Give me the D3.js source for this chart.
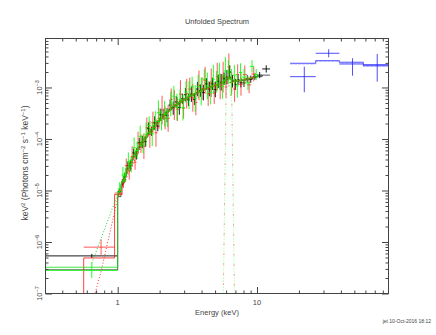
<!DOCTYPE html>
<html>
<head>
<meta charset="utf-8">
<script src="https://cdn.jsdelivr.net/npm/d3@7"></script>
<style>
  body { margin: 0; background: #fff; }
  text { font-family: "Liberation Sans", Arial, sans-serif; fill: #444; }
</style>
</head>
<body>
<script>
// Global consts
var w = 436;
var h = 335;
var plotL = 45.5, plotR = 388.5, plotT = 38.5, plotB = 293.5;
var xDomain = [0.3032, 87.9];
var yDomain = [1e-7, 8.93e-3];

// tick values
var xMajor = [1, 10];
var xMajorLabels = ["1", "10"];
var xMinor = [0.4, 0.5, 0.6, 0.7, 0.8, 0.9, 2, 3, 4, 5, 6, 7, 8, 9, 20, 30, 40, 50, 60, 70, 80];
var yMajor = [1e-7, 1e-6, 1e-5, 1e-4, 1e-3];
var yMajorExp = ["\u22127", "\u22126", "\u22125", "\u22124", "\u22123"];
var yMinorMult = [2, 3, 4, 5, 6, 7, 8, 9];

// black dataset: bin edges (keV), log10 flux, error (dex), log10 model
var blackEdges = [0.3032, 1.0, 1.055, 1.105, 1.155, 1.21, 1.27, 1.33, 1.395, 1.465, 1.54, 1.62, 1.705, 1.795,
    1.89, 1.99, 2.095, 2.205, 2.32, 2.44, 2.565, 2.70, 2.84, 2.985, 3.14, 3.30, 3.465, 3.64, 3.825, 4.02,
    4.225, 4.44, 4.665, 4.90, 5.145, 5.40, 5.665, 5.94, 6.225, 6.52, 6.825, 7.14, 7.475, 7.85, 8.275, 8.75,
    9.30, 10.0, 10.9, 12.4];
var blackFlux = [-6.27,
    -5.02, -4.85, -4.74, -4.52, -4.51, -4.27, -4.29, -4.07, -4.06, -4.05,
    -3.80, -3.85, -3.69, -3.75, -3.53, -3.52, -3.54, -3.34, -3.40, -3.28,
    -3.39, -3.22, -3.14, -3.24, -3.13, -3.23, -3.03, -3.06, -3.10, -2.93,
    -3.03, -2.93, -3.04, -2.88, -2.90, -2.83, -2.80, -2.70, -2.88, -2.94,
    -2.85, -2.91, -2.91, -2.83, -2.84, -2.79, -2.76, -2.64];
var blackErr = [0.04,
    0.06, 0.07, 0.09, 0.08, 0.10, 0.08, 0.11, 0.09, 0.12, 0.10,
    0.12, 0.09, 0.13, 0.10, 0.12, 0.11, 0.14, 0.10, 0.13, 0.11,
    0.14, 0.10, 0.13, 0.12, 0.15, 0.11, 0.14, 0.12, 0.15, 0.11,
    0.14, 0.12, 0.15, 0.13, 0.16, 0.12, 0.14, 0.13, 0.12, 0.11,
    0.10, 0.09, 0.08, 0.07, 0.07, 0.06, 0.06, 0.07];
var blackModel = [-6.54,
    -5.12, -4.88, -4.72, -4.58, -4.46, -4.35, -4.25, -4.16, -4.07, -3.98,
    -3.90, -3.82, -3.74, -3.67, -3.60, -3.54, -3.48, -3.43, -3.38, -3.34,
    -3.30, -3.26, -3.22, -3.19, -3.16, -3.13, -3.10, -3.07, -3.04, -3.02,
    -3.00, -2.98, -2.96, -2.94, -2.92, -2.90, -2.84, -2.80, -2.86, -2.88,
    -2.88, -2.87, -2.86, -2.85, -2.83, -2.81, -2.79, -2.76];

// red dataset
var redEdges = [0.40, 0.57, 0.95, 1.075, 1.125, 1.18, 1.24, 1.30, 1.365, 1.435, 1.505, 1.58, 1.66, 1.745,
    1.835, 1.93, 2.03, 2.135, 2.245, 2.36, 2.485, 2.615, 2.75, 2.895, 3.05, 3.21, 3.375, 3.55, 3.735, 3.93,
    4.135, 4.35, 4.575, 4.81, 5.055, 5.31, 5.575, 5.85, 6.135, 6.43, 6.74, 7.075, 7.45, 7.90, 8.45, 9.10, 9.85];
var redFlux = [null, -6.10, -5.05,
    -4.85, -4.52, -4.62, -4.34, -4.45, -4.08, -4.09, -4.14, -3.78, -3.91,
    -3.68, -3.88, -3.60, -3.44, -3.59, -3.60, -3.23, -3.34, -3.42, -3.13,
    -3.40, -3.12, -3.03, -3.20, -3.29, -2.96, -3.02, -2.86, -3.12, -2.91,
    -3.11, -2.79, -2.98, -2.80, -2.99, -2.60, -2.91, -3.03, -2.75, -2.94,
    -2.75, -2.95, -2.74];
var redErr = [0, 0.15, 0.06,
    0.10, 0.14, 0.17, 0.20, 0.15, 0.22, 0.18, 0.25, 0.20, 0.26,
    0.21, 0.27, 0.20, 0.28, 0.22, 0.26, 0.21, 0.29, 0.23, 0.27,
    0.20, 0.29, 0.22, 0.27, 0.25, 0.29, 0.22, 0.26, 0.24, 0.28,
    0.21, 0.27, 0.25, 0.30, 0.22, 0.26, 0.21, 0.25, 0.20, 0.22,
    0.18, 0.16, 0.14];
var redModel = [-8.5, -6.31, -5.08,
    -4.82, -4.66, -4.52, -4.40, -4.30, -4.20, -4.11, -4.02, -3.94, -3.86,
    -3.78, -3.71, -3.64, -3.57, -3.51, -3.46, -3.41, -3.36, -3.32, -3.28,
    -3.24, -3.20, -3.17, -3.14, -3.11, -3.08, -3.05, -3.03, -3.01, -2.99,
    -2.97, -2.95, -2.93, -2.90, -2.86, -2.80, -2.85, -2.88, -2.87, -2.86,
    -2.85, -2.83, -2.80];

// green dataset
var greenEdges = [0.3032, 1.0, 1.065, 1.115, 1.165, 1.22, 1.28, 1.345, 1.415, 1.485, 1.56, 1.64, 1.725, 1.815,
    1.91, 2.01, 2.115, 2.225, 2.34, 2.465, 2.595, 2.73, 2.87, 3.015, 3.17, 3.335, 3.51, 3.69, 3.88, 4.08,
    4.29, 4.51, 4.74, 4.985, 5.24, 5.505, 5.785, 6.08, 6.385, 6.705, 7.045, 7.41, 7.825, 8.325, 8.9, 9.525, 10.2];
var greenFlux = [-6.55,
    -4.97, -4.70, -4.70, -4.44, -4.50, -4.17, -4.22, -3.95, -4.10, -3.91,
    -3.74, -3.90, -3.65, -3.49, -3.63, -3.51, -3.59, -3.32, -3.17, -3.38,
    -3.23, -3.39, -3.09, -3.15, -2.99, -3.21, -2.98, -3.08, -2.84, -2.97,
    -3.10, -2.84, -2.89, -2.78, -2.98, -2.68, -2.70, -2.90, -2.76, -2.97,
    -2.71, -2.80, -2.91, -2.59, -2.75];
var greenErr = [0.15,
    0.13, 0.16, 0.14, 0.18, 0.15, 0.20, 0.17, 0.21, 0.18, 0.23,
    0.18, 0.24, 0.19, 0.24, 0.20, 0.25, 0.18, 0.24, 0.20, 0.26,
    0.19, 0.25, 0.21, 0.27, 0.20, 0.26, 0.23, 0.27, 0.20, 0.26,
    0.23, 0.28, 0.21, 0.26, 0.24, 0.27, 0.23, 0.26, 0.20, 0.23,
    0.18, 0.16, 0.14, 0.12, 0.11];
var greenModel = [-6.49,
    -5.02, -4.82, -4.67, -4.54, -4.42, -4.32, -4.22, -4.13, -4.04, -3.96,
    -3.88, -3.80, -3.73, -3.66, -3.59, -3.53, -3.47, -3.42, -3.37, -3.33,
    -3.29, -3.25, -3.21, -3.18, -3.15, -3.12, -3.09, -3.06, -3.03, -3.01,
    -2.99, -2.97, -2.95, -2.93, -2.91, -2.86, -2.80, -2.84, -2.88, -2.87,
    -2.86, -2.85, -2.83, -2.81, -2.79];

// blue dataset (hard band), asymmetric errors
var blueEdges = [17.3, 26.4, 39.0, 58.0, 87.9];
var blueFlux = [-2.79, -2.336, -2.544, -2.557];
var blueHi = [-2.596, -2.258, -2.433, -2.350];
var blueLo = [-3.093, -2.414, -2.771, -2.887];
var blueModel = [-2.53, -2.48, -2.51, -2.577];
var blueComp = [-2.545, -2.49, -2.525, -2.59];

// model components (dotted): continuum and line, [keV, log10 flux]
var greenCont = [[0.652, -6.41], [1.03, -4.98], [1.5, -4.08], [2.2, -3.52], [3.2, -3.2], [4.8, -2.97], [7, -2.88], [10, -2.8]];
var redCont = [[0.485, -8.5], [0.76, -6.57], [1.01, -5.1], [1.5, -4.1], [2.2, -3.52], [3.2, -3.2], [4.8, -2.97], [7, -2.88], [9.5, -2.8]];
var lineE = [5.2, 5.6, 6.0, 6.3, 6.6, 7.05, 7.5];
var lineFlux = [-13, -9.0, -3.1, -2.95, -3.3, -9.0, -13];

var x = d3.scaleLog().domain(xDomain).range([plotL, plotR]);
var y = d3.scaleLog().domain(yDomain).range([plotB, plotT]);

var svg = d3.select("body").append("svg")
    .attr("width", w)
    .attr("height", h);

svg.append("defs").append("clipPath").attr("id", "clip")
    .append("rect")
    .attr("x", plotL).attr("y", plotT)
    .attr("width", plotR - plotL).attr("height", plotB - plotT);

var plot = svg.append("g").attr("clip-path", "url(#clip)");

function bins(edges, flux, err, model) {
    return flux.map(function (v, i) {
        return {lo: edges[i], hi: edges[i + 1], v: v, e: err[i], m: model[i]};
    });
}

var stepLine = d3.line()
    .x(function (d) { return x(d[0]); })
    .y(function (d) { return y(Math.pow(10, d[1])); });

function drawModel(data, color, opacity) {
    var pts = [];
    data.forEach(function (d) {
        pts.push([d.lo, d.m]);
        pts.push([d.hi, d.m]);
    });
    plot.append("path")
        .attr("d", stepLine(pts))
        .attr("fill", "none")
        .attr("stroke", color)
        .attr("stroke-opacity", opacity)
        .attr("stroke-width", 1);
}

function drawData(data, color, opacity) {
    var g = plot.append("g")
        .attr("stroke", color)
        .attr("stroke-opacity", opacity)
        .attr("stroke-width", 1);
    var pts = data.filter(function (d) { return d.v !== null; });
    g.selectAll(".hbar").data(pts).enter().append("line")
        .attr("x1", function (d) { return x(d.lo); })
        .attr("x2", function (d) { return x(d.hi); })
        .attr("y1", function (d) { return y(Math.pow(10, d.v)); })
        .attr("y2", function (d) { return y(Math.pow(10, d.v)); });
    g.selectAll(".vbar").data(pts).enter().append("line")
        .attr("x1", function (d) { return x((d.lo + d.hi) / 2); })
        .attr("x2", function (d) { return x((d.lo + d.hi) / 2); })
        .attr("y1", function (d) { return y(Math.pow(10, d.v - d.e)); })
        .attr("y2", function (d) { return y(Math.pow(10, d.v + d.e)); });
}

function drawDotted(pts, color, dash, offset) {
    plot.append("path")
        .attr("d", stepLine(pts))
        .attr("fill", "none")
        .attr("stroke", color)
        .attr("stroke-width", 1)
        .attr("stroke-dasharray", dash)
        .attr("stroke-dashoffset", offset);
}

var blackBins = bins(blackEdges, blackFlux, blackErr, blackModel);
var redBins = bins(redEdges, redFlux, redErr, redModel);
var greenBins = bins(greenEdges, greenFlux, greenErr, greenModel);

drawModel(blackBins, "#000", 0.65);
drawData(blackBins, "#000", 0.9);
drawModel(redBins, "#ff0000", 0.75);
drawData(redBins, "#ff1010", 0.7);
drawModel(greenBins, "#00e000", 0.75);
drawData(greenBins, "#00ff00", 0.85);

// model components
drawDotted(greenCont, "#20d020", "1,2", 0);
drawDotted(redCont, "#ff3030", "1,2", 0);
var linePts = lineE.map(function (e, i) { return [e, lineFlux[i]]; });
drawDotted(linePts, "#90ff90", "1,2", 0);
drawDotted(linePts, "#ff6060", "1,9", 2);

// blue
var blueBins = blueFlux.map(function (v, i) {
    return {lo: blueEdges[i], hi: blueEdges[i + 1], v: v, hiV: blueHi[i], loV: blueLo[i], m: blueModel[i], c: blueComp[i]};
});
var bluePts = [];
blueBins.forEach(function (d) { bluePts.push([d.lo, d.m]); bluePts.push([d.hi, d.m]); });
plot.append("path").attr("d", stepLine(bluePts))
    .attr("fill", "none").attr("stroke", "#2020ff").attr("stroke-opacity", 0.8);
var blueCompPts = [];
blueBins.forEach(function (d) { blueCompPts.push([d.lo, d.c]); blueCompPts.push([d.hi, d.c]); });
plot.append("path").attr("d", stepLine(blueCompPts))
    .attr("fill", "none").attr("stroke", "#8080ff").attr("stroke-opacity", 0.6)
    .attr("stroke-dasharray", "3,1");
var bg = plot.append("g").attr("stroke", "#2020ff").attr("stroke-opacity", 0.8);
bg.selectAll(".bh").data(blueBins).enter().append("line")
    .attr("x1", function (d) { return x(d.lo); })
    .attr("x2", function (d) { return x(d.hi); })
    .attr("y1", function (d) { return y(Math.pow(10, d.v)); })
    .attr("y2", function (d) { return y(Math.pow(10, d.v)); });
bg.selectAll(".bv").data(blueBins).enter().append("line")
    .attr("x1", function (d) { return x((d.lo + d.hi) / 2); })
    .attr("x2", function (d) { return x((d.lo + d.hi) / 2); })
    .attr("y1", function (d) { return y(Math.pow(10, d.loV)); })
    .attr("y2", function (d) { return y(Math.pow(10, d.hiV)); });

// frame
svg.append("rect")
    .attr("x", plotL).attr("y", plotT)
    .attr("width", plotR - plotL).attr("height", plotB - plotT)
    .attr("fill", "none").attr("stroke", "#444").attr("stroke-width", 1);

// ticks, all pointing inward
var yMinor = [];
yMajor.forEach(function (d) {
    yMinorMult.forEach(function (m) {
        if (d * m <= yDomain[1]) yMinor.push(d * m);
    });
});

function ticks(axisFn, scale, values, size, tx, ty) {
    svg.append("g")
        .attr("transform", "translate(" + tx + "," + ty + ")")
        .call(axisFn(scale).tickValues(values).tickSize(size).tickFormat(""))
        .call(function (g) { g.select(".domain").remove(); })
        .selectAll("line").attr("stroke", "#444");
}
ticks(d3.axisBottom, x, xMajor, -6.5, 0, plotB);
ticks(d3.axisBottom, x, xMinor, -3, 0, plotB);
ticks(d3.axisTop, x, xMajor, -6.5, 0, plotT);
ticks(d3.axisTop, x, xMinor, -3, 0, plotT);
ticks(d3.axisLeft, y, yMajor, -6.5, plotL, 0);
ticks(d3.axisLeft, y, yMinor, -3, plotL, 0);
ticks(d3.axisRight, y, yMajor, -6.5, plotR, 0);
ticks(d3.axisRight, y, yMinor, -3, plotR, 0);

// tick labels
svg.selectAll(".xlab").data(xMajor).enter().append("text")
    .attr("x", function (d) { return x(d); })
    .attr("y", 305)
    .attr("text-anchor", "middle")
    .attr("font-size", "7.5px")
    .text(function (d, i) { return xMajorLabels[i]; });

yMajor.forEach(function (d, i) {
    var t = svg.append("text")
        .attr("transform", "translate(42," + y(d) + ") rotate(-90)")
        .attr("text-anchor", "middle")
        .attr("font-size", "7.5px");
    t.append("tspan").text("10");
    t.append("tspan").attr("dy", -3).attr("font-size", "5.5px").text(yMajorExp[i]);
});

// titles
svg.append("text")
    .attr("x", (plotL + plotR) / 2).attr("y", 24)
    .attr("text-anchor", "middle").attr("font-size", "7.5px")
    .text("Unfolded Spectrum");

svg.append("text")
    .attr("x", (plotL + plotR) / 2).attr("y", 315)
    .attr("text-anchor", "middle").attr("font-size", "7.5px")
    .text("Energy (keV)");

var yl = svg.append("text")
    .attr("transform", "translate(28," + ((plotT + plotB) / 2 - 3) + ") rotate(-90)")
    .attr("text-anchor", "middle").attr("font-size", "8.5px");
yl.append("tspan").text("keV");
yl.append("tspan").attr("dy", -3.5).attr("font-size", "6px").text("2");
yl.append("tspan").attr("dy", 3.5).text(" (Photons cm");
yl.append("tspan").attr("dy", -3.5).attr("font-size", "6px").text("\u22122");
yl.append("tspan").attr("dy", 3.5).text(" s");
yl.append("tspan").attr("dy", -3.5).attr("font-size", "6px").text("\u22121");
yl.append("tspan").attr("dy", 3.5).text(" keV");
yl.append("tspan").attr("dy", -3.5).attr("font-size", "6px").text("\u22121");
yl.append("tspan").attr("dy", 3.5).text(")");

svg.append("text")
    .attr("x", 431).attr("y", 323)
    .attr("text-anchor", "end").attr("font-size", "5px")
    .text("jet 10-Oct-2016 18:12");
</script>
</body>
</html>
